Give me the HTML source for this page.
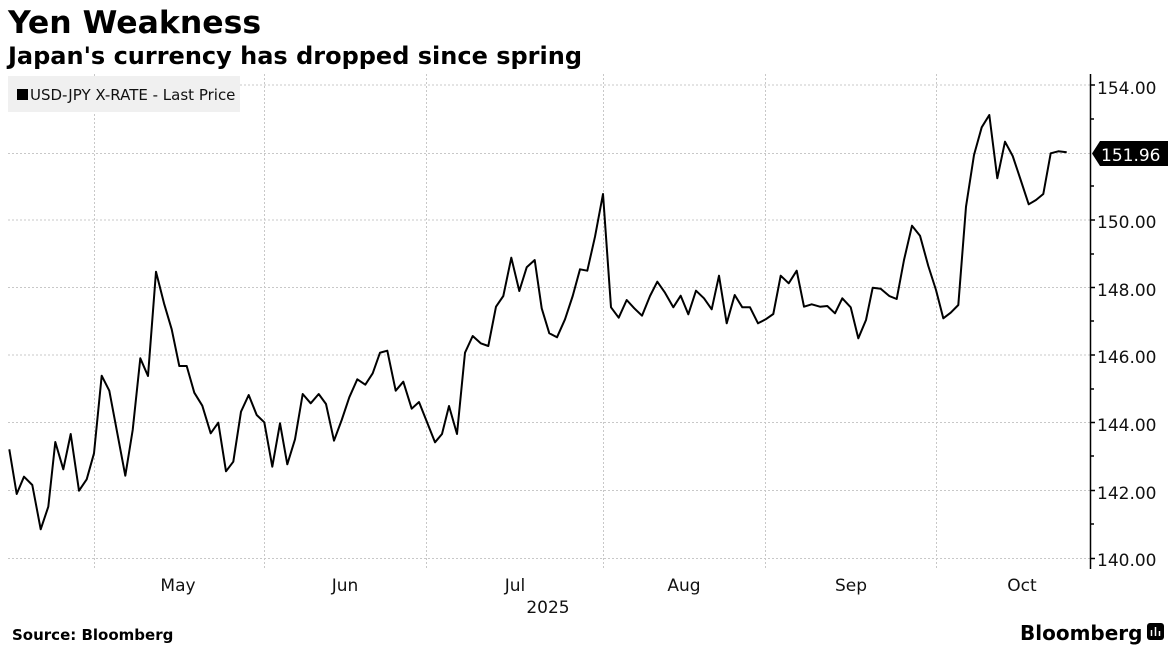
<!DOCTYPE html>
<html><head><meta charset="utf-8"><style>
body{margin:0;background:#fff;width:1176px;height:648px;overflow:hidden;font-family:"DejaVu Sans","Liberation Sans",sans-serif}
</style></head><body>
<svg width="1176" height="648" xmlns="http://www.w3.org/2000/svg" style="position:absolute;left:0;top:0">
<text x="8" y="33" font-family="DejaVu Sans" font-weight="bold" font-size="31.5" fill="#000">Yen Weakness</text>
<text x="8" y="64" font-family="DejaVu Sans" font-weight="bold" font-size="24" fill="#000">Japan's currency has dropped since spring</text>
<g stroke="#c8c8c8" stroke-width="1" stroke-dasharray="2,2">
<line x1="8" y1="85" x2="1090" y2="85"/><line x1="8" y1="153.5" x2="1090" y2="153.5"/>
<line x1="8" y1="220" x2="1090" y2="220"/><line x1="8" y1="287.5" x2="1090" y2="287.5"/>
<line x1="8" y1="355" x2="1090" y2="355"/><line x1="8" y1="422.5" x2="1090" y2="422.5"/>
<line x1="8" y1="490.5" x2="1090" y2="490.5"/><line x1="8" y1="558.5" x2="1090" y2="558.5"/>
<line x1="94.5" y1="74" x2="94.5" y2="568"/><line x1="264.5" y1="74" x2="264.5" y2="568"/>
<line x1="426.5" y1="74" x2="426.5" y2="568"/><line x1="603.5" y1="74" x2="603.5" y2="568"/>
<line x1="765.5" y1="74" x2="765.5" y2="568"/><line x1="936.5" y1="74" x2="936.5" y2="568"/>
</g>
<rect x="8" y="76" width="232" height="36" fill="#f0f0f0"/>
<rect x="17" y="89" width="11" height="11" fill="#000"/>
<text x="30" y="100" font-size="15" fill="#111">USD-JPY X-RATE - Last Price</text>
<polyline fill="none" stroke="#000" stroke-width="2" stroke-linejoin="round" points="9.3,449.3 16.7,494 24,476.7 32.3,485 40.7,529.3 48.3,506.7 55.3,442 63.3,469.3 70.7,434 79,490.7 86.7,479.3 94,453.3 101.7,375.7 109.3,390.7 125.3,475.7 132.7,430 140.3,358.3 148,376 156,271.7 164,303.3 171.7,329.3 179.3,366 186.7,366 194.3,392.7 202.3,405.7 210.7,433.3 218.3,422.7 226,471.3 233.3,461.7 241,411.7 248.7,395 256.7,415 264.3,422.3 272.3,466.7 280,423.3 287.3,464.3 295,439.3 302.7,394 310.7,403.3 318.7,394 326,404 334,440.7 341.7,420 349.3,397.3 357.3,379.3 365.3,384.7 372.7,373.3 380,352.7 387.3,350.7 395.7,390.7 403.3,381.7 411.7,408.7 419,402 435,442.3 442,434 449,406 457,434 465,352.7 472.7,336 480.7,343.3 488.3,346 496,306.7 503.3,296 511.3,257.7 519.3,291 526.7,267.3 534.7,260 541.7,308.3 549.3,333.3 557,337.3 565,319.3 572.7,296 580,269.3 587.3,270.7 595,236.7 603,194 611,307.3 618.7,317.7 626.7,300 634.3,308.3 642,315.7 650,296 657.3,281.7 665,292.7 673.3,307.3 680.7,295.7 688.3,314.3 696,290.7 704,298.3 711.7,309.3 719,275.7 726.7,323.3 734.7,295 742.3,307.3 750,307.3 758,323.3 765.7,319.3 773.3,314 780.7,275.7 788.7,283.3 796.7,270.7 804,306.7 811.7,304.3 820,306.7 827.3,306 835,313.3 842.3,298.3 850.7,307.3 858.3,338.3 866,320 872.7,287.7 880.7,288.7 889.3,296 896.7,299 904,260 912,225.7 920,235.7 928.3,266 936,290 943.3,318.3 950.7,312.7 958.3,305 966,206.7 974,155 981.7,127.3 989.3,115 997.3,178.3 1005,141.7 1012.7,156 1020.7,180 1028.7,204.3 1036,200 1043.3,194 1050.7,153.3 1058.3,151.3 1066.7,152.3"/>
<line x1="1090.5" y1="74" x2="1090.5" y2="569" stroke="#000" stroke-width="1.5"/>
<g stroke="#000" stroke-width="1.5">
<line x1="1090" y1="85" x2="1095" y2="85"/><line x1="1090" y1="119" x2="1094" y2="119"/><line x1="1090" y1="186" x2="1094" y2="186"/><line x1="1090" y1="220" x2="1095" y2="220"/><line x1="1090" y1="254" x2="1094" y2="254"/><line x1="1090" y1="287.5" x2="1095" y2="287.5"/><line x1="1090" y1="321" x2="1094" y2="321"/><line x1="1090" y1="355" x2="1095" y2="355"/><line x1="1090" y1="389" x2="1094" y2="389"/><line x1="1090" y1="422.5" x2="1095" y2="422.5"/><line x1="1090" y1="456" x2="1094" y2="456"/><line x1="1090" y1="490.5" x2="1095" y2="490.5"/><line x1="1090" y1="524" x2="1094" y2="524"/><line x1="1090" y1="558.5" x2="1095" y2="558.5"/>
</g>
<g font-size="17" fill="#111">
<text x="1097" y="94">154.00</text><text x="1097" y="228">150.00</text><text x="1097" y="296">148.00</text><text x="1097" y="363">146.00</text><text x="1097" y="431">144.00</text><text x="1097" y="499">142.00</text><text x="1097" y="566">140.00</text>
</g>
<polygon points="1092,153.5 1100,141 1168,141 1168,166 1100,166" fill="#000"/>
<text x="1101" y="161" font-size="17" fill="#fff">151.96</text>
<g font-size="17" fill="#111" text-anchor="middle">
<text x="178" y="591">May</text><text x="345" y="591">Jun</text><text x="515" y="591">Jul</text><text x="684" y="591">Aug</text><text x="851" y="591">Sep</text><text x="1022" y="591">Oct</text>
<text x="548" y="613">2025</text>
</g>
<text x="12" y="640" font-weight="bold" font-size="15" fill="#000">Source: Bloomberg</text>
<text x="1020" y="640" font-weight="bold" font-size="20" fill="#000">Bloomberg</text>
<rect x="1147" y="623" width="17" height="17" rx="3" fill="#000"/>
<g stroke="#fff" stroke-width="1.5"><line x1="1151.5" y1="636" x2="1151.5" y2="630"/><line x1="1155.5" y1="636" x2="1155.5" y2="627"/><line x1="1159.5" y1="636" x2="1159.5" y2="631"/></g>
</svg>
</body></html>
